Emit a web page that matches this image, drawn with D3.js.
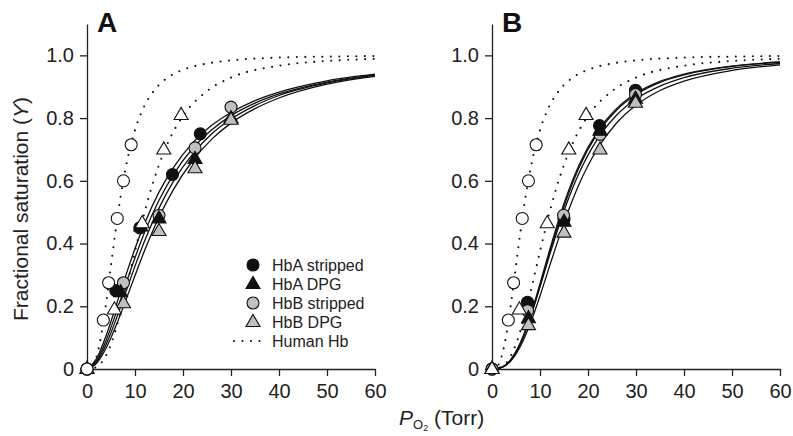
<!DOCTYPE html>
<html>
<head>
<meta charset="utf-8">
<script src="https://cdn.jsdelivr.net/npm/d3@7/dist/d3.min.js"></script>
<style>
  body { margin: 0; background: #fff; }
  svg { font-family: "Liberation Sans", Arial, sans-serif; }
</style>
</head>
<body>
<svg id="chart" width="793" height="436"></svg>
<script>
// ---- data ----
var xTicks = [0, 10, 20, 30, 40, 50, 60];
var yTicks = [0, 0.2, 0.4, 0.6, 0.8, 1.0];

// human Hb reference points (same in both panels)
var humanCircles = [[3.4, 0.156], [4.5, 0.275], [6.3, 0.48], [7.6, 0.60], [9.2, 0.715]];
var humanTriangles = [[5.7, 0.19], [11.5, 0.465], [16.0, 0.70], [19.6, 0.81]];

// panel A points
var aHbAStripped = [[0, 0], [6.0, 0.25], [11.0, 0.45], [17.8, 0.62], [23.6, 0.75]];
var aHbADpg = [[0, 0], [7.0, 0.245], [11.2, 0.455], [15.0, 0.48], [22.5, 0.67], [30.0, 0.80]];
var aHbBStripped = [[0, 0], [7.6, 0.275], [15.0, 0.49], [22.5, 0.705], [30.0, 0.835]];
var aHbBDpg = [[0, 0], [7.6, 0.21], [15.0, 0.44], [22.5, 0.64], [30.0, 0.795]];

// panel B points
var bHbAStripped = [[0, 0], [7.4, 0.213], [15.0, 0.478], [22.4, 0.776], [29.9, 0.889]];
var bHbADpg = [[0, 0], [7.6, 0.162], [15.0, 0.47], [22.5, 0.76], [29.9, 0.862]];
var bHbBStripped = [[0, 0], [7.4, 0.186], [14.9, 0.49], [22.5, 0.748], [29.9, 0.875]];
var bHbBDpg = [[0, 0], [7.6, 0.14], [15.0, 0.435], [22.5, 0.70], [29.9, 0.849]];

// fitted curves, sampled by eye
var curveX = [0, 2, 4, 6, 8, 10, 12, 15, 18, 22, 26, 30, 35, 40, 50, 60];
var aCurve1 = [0, 0.033, 0.107, 0.199, 0.294, 0.384, 0.464, 0.564, 0.642, 0.721, 0.777, 0.818, 0.856, 0.883, 0.919, 0.940];
var aCurve2 = [0, 0.027, 0.092, 0.176, 0.267, 0.355, 0.436, 0.538, 0.620, 0.703, 0.763, 0.808, 0.848, 0.877, 0.915, 0.938];
var aCurve3 = [0, 0.022, 0.079, 0.156, 0.242, 0.328, 0.408, 0.513, 0.598, 0.685, 0.750, 0.797, 0.840, 0.872, 0.912, 0.936];
var aCurve4 = [0, 0.018, 0.067, 0.136, 0.216, 0.298, 0.378, 0.484, 0.572, 0.664, 0.733, 0.784, 0.830, 0.864, 0.908, 0.933];
var bCurve1 = [0, 0.005, 0.031, 0.086, 0.170, 0.272, 0.379, 0.528, 0.646, 0.758, 0.831, 0.879, 0.917, 0.940, 0.966, 0.979];
var bCurve2 = [0, 0.005, 0.029, 0.083, 0.165, 0.265, 0.371, 0.518, 0.638, 0.752, 0.826, 0.875, 0.914, 0.938, 0.965, 0.978];
var bCurve3 = [0, 0.005, 0.032, 0.086, 0.166, 0.262, 0.363, 0.504, 0.620, 0.734, 0.810, 0.861, 0.902, 0.929, 0.959, 0.974];
var bCurve4 = [0, 0.005, 0.027, 0.075, 0.146, 0.233, 0.328, 0.466, 0.584, 0.703, 0.785, 0.841, 0.888, 0.918, 0.952, 0.970];

var dotX = [0, 1, 2, 3, 4, 5, 6, 7, 8, 9, 10, 12, 14, 17, 20, 25, 30, 40, 50, 60];
var humanCurve1 = [0, 0.006, 0.040, 0.110, 0.212, 0.330, 0.446, 0.550, 0.637, 0.707, 0.762, 0.840, 0.888, 0.931, 0.954, 0.974, 0.984, 0.993, 0.996, 0.998];
var humanCurve2 = [0, 0.001, 0.007, 0.020, 0.044, 0.079, 0.126, 0.181, 0.243, 0.309, 0.375, 0.500, 0.606, 0.726, 0.807, 0.886, 0.929, 0.967, 0.982, 0.989];

var legendNames = ["HbA stripped", "HbA DPG", "HbB stripped", "HbB DPG", "Human Hb"];

// ---- drawing ----
var svg = d3.select("#chart");
var W = 288, H = 345;
var grey = "#c0c0c0";

var x = d3.scaleLinear().domain([0, 60]).range([0, W]);
var y = d3.scaleLinear().domain([0, 1.1]).range([H, 0]);

var line = d3.line()
    .x(function(d) { return x(d[0]); })
    .y(function(d) { return y(d[1]); })
    .curve(d3.curveMonotoneX);

function zipCurve(xs, ys) {
    return xs.map(function(v, i) { return [v, ys[i]]; });
}

function circles(g, data, fill) {
    g.selectAll(null).data(data).enter().append("circle")
        .attr("cx", function(d) { return x(d[0]); })
        .attr("cy", function(d) { return y(d[1]); })
        .attr("r", 6)
        .style("fill", fill)
        .style("stroke", "#111")
        .style("stroke-width", 1.1);
}

var tri = d3.symbol().type(d3.symbolTriangle).size(85);
function triangles(g, data, fill) {
    g.selectAll(null).data(data).enter().append("path")
        .attr("d", tri)
        .attr("transform", function(d) { return "translate(" + x(d[0]) + "," + (y(d[1]) + 0.5) + ")"; })
        .style("fill", fill)
        .style("stroke", "#111")
        .style("stroke-width", 1.1);
}

function panel(left, letter, curves, pts, origin) {
    var g = svg.append("g").attr("transform", "translate(" + left + ",24)");

    var xa = g.append("g").attr("transform", "translate(0," + H + ")")
        .call(d3.axisBottom(x).tickValues(xTicks).tickSize(7).tickPadding(8).tickSizeOuter(0));
    var ya = g.append("g")
        .call(d3.axisLeft(y).tickValues(yTicks).tickSize(7).tickPadding(6).tickSizeOuter(0)
            .tickFormat(function(d) { return d === 0 ? "0" : d3.format(".1f")(d); }));
    [xa, ya].forEach(function(a) {
        a.selectAll("path, line").style("stroke", "#222").style("stroke-width", 1.3);
        a.selectAll("text").style("font-size", "20px").style("fill", "#222");
    });

    g.append("text").attr("x", 10).attr("y", 8)
        .style("font-size", "28px").style("font-weight", "bold").style("fill", "#111")
        .text(letter);

    curves.forEach(function(c) {
        g.append("path").datum(zipCurve(curveX, c)).attr("d", line)
            .style("fill", "none").style("stroke", "#111").style("stroke-width", 1.3);
    });
    [humanCurve1, humanCurve2].forEach(function(c) {
        g.append("path").datum(zipCurve(dotX, c)).attr("d", line)
            .style("fill", "none").style("stroke", "#111").style("stroke-width", 2.1)
            .style("stroke-linecap", "round").style("stroke-dasharray", "0 8.5");
    });

    circles(g, pts[0], "#111");
    circles(g, pts[2], grey);
    triangles(g, pts[1], "#111");
    triangles(g, pts[3], grey);
    circles(g, humanCircles, "#fff");
    triangles(g, humanTriangles, "#fff");
    if (origin === "circle") circles(g, [[0, 0]], "#fff");
    else triangles(g, [[0, 0]], "#fff");
    return g;
}

panel(87, "A", [aCurve1, aCurve2, aCurve3, aCurve4],
    [aHbAStripped, aHbADpg, aHbBStripped, aHbBDpg], "circle");
panel(492, "B", [bCurve1, bCurve2, bCurve3, bCurve4],
    [bHbAStripped, bHbADpg, bHbBStripped, bHbBDpg], "triangle");

// legend in panel A
var lg = svg.append("g");
var legendFills = ["#111", "#111", grey, grey, null];
legendNames.forEach(function(name, i) {
    var cy = 265 + i * 19;
    if (i === 0 || i === 2) {
        lg.append("circle").attr("cx", 253).attr("cy", cy).attr("r", 6)
            .style("fill", legendFills[i]).style("stroke", "#111").style("stroke-width", 1.1);
    } else if (i === 1 || i === 3) {
        lg.append("path").attr("d", tri).attr("transform", "translate(253," + (cy + 0.5) + ")")
            .style("fill", legendFills[i]).style("stroke", "#111").style("stroke-width", 1.1);
    } else {
        lg.append("line").attr("x1", 234).attr("x2", 260).attr("y1", cy).attr("y2", cy)
            .style("stroke", "#111").style("stroke-width", 2.1)
            .style("stroke-linecap", "round").style("stroke-dasharray", "0 8.5");
    }
    lg.append("text").attr("x", 272).attr("y", cy).attr("dy", "0.36em")
        .style("font-size", "16px").style("fill", "#222").text(name);
});

// axis titles
var yt = svg.append("text")
    .attr("transform", "translate(28,209) rotate(-90)")
    .attr("text-anchor", "middle")
    .style("font-size", "21px").style("fill", "#222");
yt.append("tspan").text("Fractional saturation (");
yt.append("tspan").style("font-style", "italic").text("Y");
yt.append("tspan").text(")");

var xt = svg.append("text").attr("x", 399).attr("y", 425)
    .style("font-size", "21px").style("fill", "#222");
xt.append("tspan").style("font-style", "italic").text("P");
xt.append("tspan").attr("dy", 4).style("font-size", "13px").text("O");
xt.append("tspan").attr("dy", 2).style("font-size", "9px").text("2");
xt.append("tspan").attr("dy", -6).text(" (Torr)");
</script>
</body>
</html>
